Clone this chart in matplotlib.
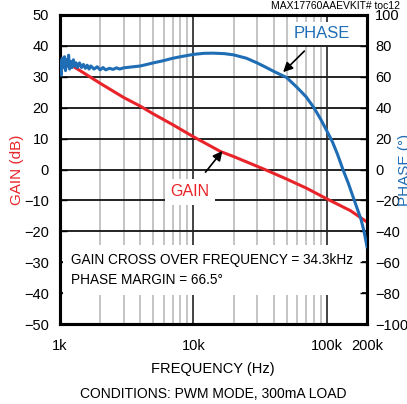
import matplotlib
matplotlib.use("Agg")
import matplotlib.pyplot as plt
from matplotlib.ticker import FixedLocator, NullFormatter

plt.rcParams["font.family"] = ["Liberation Sans", "DejaVu Sans"]

# Gain (dB) vs frequency (Hz)
gain_freq = [1000, 1200, 1500, 2000, 3000, 4000, 5000, 7000, 10000, 16000,
             20000, 34300, 50000, 70000, 100000, 150000, 200000]
gain_db = [36, 33.9, 31.3, 27.9, 23.3, 20.5, 18, 14.5, 10.6, 5.8,
           4.2, 0, -3.1, -6, -9.5, -13.3, -17]

# Phase (deg) vs frequency (Hz), noisy at the low end
phase_freq = [1000, 1020, 1040, 1060, 1080, 1100, 1120, 1140, 1160, 1180,
              1200, 1230, 1260, 1290, 1320, 1350, 1400, 1450, 1500, 1550,
              1600, 1650, 1700, 1800, 1900, 2000, 2100, 2200, 2350, 2500,
              2650, 2800, 3000, 4000, 5000, 6000, 7000, 8000, 10000, 12000,
              14000, 17000, 20000, 25000, 30000, 34300, 40000, 50000, 60000,
              70000, 80000, 90000, 100000, 110000, 120000, 132000, 145000,
              157000, 170000, 180000, 190000, 200000]
phase_deg = [70, 61, 72, 66, 73, 64, 71, 67, 74, 65,
             70, 66, 71, 67, 69, 66, 69, 66, 68, 65.5,
             67.5, 65, 67, 65, 66.5, 64.5, 66, 64.5, 65.5, 64.8,
             65.8, 65, 65.8, 67, 69, 70.5, 72, 73, 74.5, 75.2,
             75.3, 75, 74.2, 72, 69, 66.5, 63.5, 59.5, 53,
             47, 40, 32.5, 25, 18, 10, 0, -9,
             -17.5, -26, -32, -40, -50]

gain_ticks = list(range(-50, 51, 10))
phase_ticks = list(range(-100, 101, 20))
freq_major = [1000, 10000, 100000, 200000]
freq_labels = ["1k", "10k", "100k", "200k"]
freq_minor = [2000, 3000, 4000, 5000, 6000, 7000, 8000, 9000,
              20000, 30000, 40000, 50000, 60000, 70000, 80000, 90000]

RED = "#e8242a"
BLUE = "#1f6db5"

fig = plt.figure(figsize=(4.07, 4.04), dpi=100)
ax = fig.add_axes([60 / 407, 1 - 324 / 404, 307 / 407, 309 / 404])
ax2 = ax.twinx()

ax.set_xscale("log")
ax.set_xlim(1000, 200000)
ax.set_ylim(-50, 50)
ax2.set_ylim(-100, 100)

# grid
for f in freq_minor:
    ax.axvline(f, color="#c4c4c4", lw=1.4, zorder=1)
for f in [10000, 100000]:
    ax.axvline(f, color="#222222", lw=1.2, zorder=1.2)
for g in gain_ticks[1:-1]:
    ax.axhline(g, color="#222222", lw=1.4, zorder=1.2)

ax.plot(gain_freq, gain_db, color=RED, lw=2.2, zorder=3)
ax2.plot(phase_freq, phase_deg, color=BLUE, lw=2.2, zorder=3)

ax.xaxis.set_major_locator(FixedLocator(freq_major))
ax.set_xticklabels(freq_labels)
ax.xaxis.set_minor_formatter(NullFormatter())
ax.tick_params(axis="x", which="both", length=0, labelsize=10.5, pad=11)
ax.set_yticks(gain_ticks)
ax.tick_params(axis="y", direction="in", length=5, width=1, labelsize=10.5, pad=8)
ax2.set_yticks(phase_ticks)
ax2.tick_params(axis="y", direction="in", length=5, width=1, labelsize=10.5, pad=6)

for a in (ax, ax2):
    for s in a.spines.values():
        s.set_linewidth(2.2)

ax.set_ylabel("GAIN (dB)", color=RED, fontsize=11)
ax.yaxis.set_label_coords(-0.118, 0.5)
ax2.set_ylabel("PHASE (°)", color=BLUE, fontsize=11)
ax2.yaxis.set_label_coords(1.10, 0.5)

fig.text(213 / 407, 1 - 369 / 404, "FREQUENCY (Hz)",
         ha="center", va="center", fontsize=10.5)
fig.text(213 / 407, 1 - 394 / 404, "CONDITIONS: PWM MODE, 300mA LOAD",
         ha="center", va="center", fontsize=10)
fig.text(400 / 407, 1 - 6 / 404, "MAX17760AAEVKIT# toc12",
         ha="right", va="center", fontsize=7.5)

ax.text(0.037, 0.175,
        "GAIN CROSS OVER FREQUENCY = 34.3kHz\nPHASE MARGIN = 66.5°",
        transform=ax.transAxes, ha="left", va="center", fontsize=9.8,
        linespacing=1.5, zorder=4,
        bbox=dict(facecolor="white", edgecolor="none", pad=6))

ax2.annotate("PHASE", xy=(47000, 63), xytext=(92000, 88),
             color=BLUE, fontsize=12, ha="center", va="center", zorder=5,
             bbox=dict(facecolor="white", edgecolor="none", pad=3),
             arrowprops=dict(arrowstyle="-|>", color="black", lw=1.2,
                             mutation_scale=14, shrinkA=6, shrinkB=0))
ax.annotate("GAIN", xy=(16500, 6), xytext=(9400, -7.2),
            color=RED, fontsize=11.5, ha="center", va="center", zorder=5,
            bbox=dict(facecolor="white", edgecolor="none", pad=4),
            arrowprops=dict(arrowstyle="-|>", color="black", lw=1.2,
                            mutation_scale=14, shrinkA=6, shrinkB=0))

fig.savefig("out.png", dpi=100)
